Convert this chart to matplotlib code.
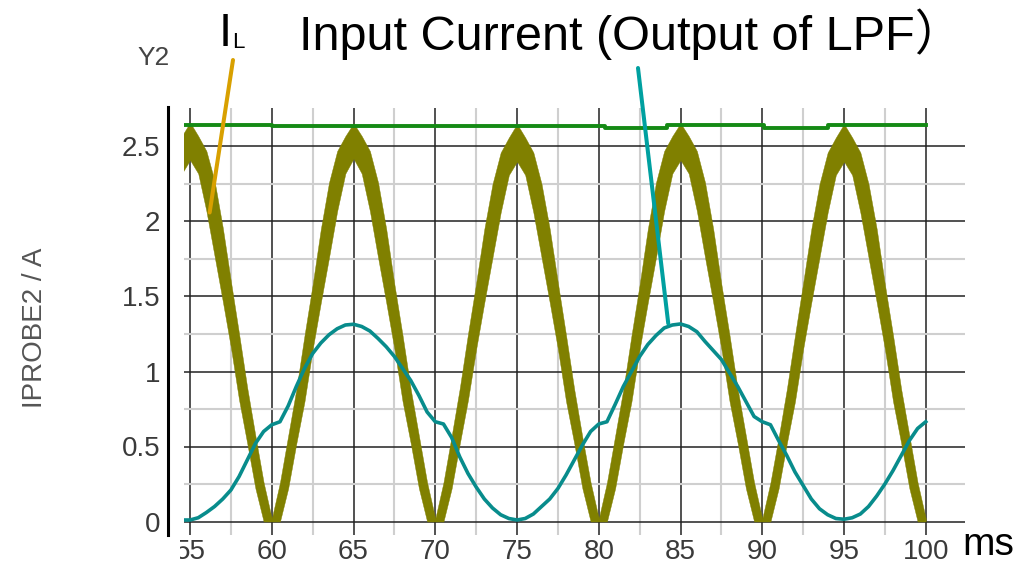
import matplotlib
matplotlib.use("Agg")
import matplotlib.pyplot as plt
from matplotlib import font_manager
from matplotlib.patches import Rectangle
import numpy as np

# sample times (ms), one reading every 0.5 ms
t = np.arange(54.5, 100.25, 0.5)

# inductor current I_L: upper and lower edge of the ripple band (A)
il_hi = [2.57, 2.66, 2.57, 2.47, 2.27, 1.96, 1.60, 1.25, 0.89, 0.57, 0.26, 0.02,
         0.26, 0.57, 0.88, 1.24, 1.58, 1.95, 2.26, 2.47, 2.57, 2.655, 2.57, 2.47, 2.26, 1.95, 1.58, 1.24, 0.88, 0.57, 0.26, 0.02,
         0.26, 0.57, 0.89, 1.25, 1.59, 1.95, 2.25, 2.46, 2.56, 2.65, 2.56, 2.46, 2.25, 1.95, 1.59, 1.24, 0.88, 0.56, 0.26, 0.02,
         0.26, 0.57, 0.88, 1.24, 1.58, 1.95, 2.26, 2.47, 2.57, 2.655, 2.57, 2.47, 2.26, 1.95, 1.58, 1.24, 0.88, 0.57, 0.26, 0.02,
         0.26, 0.56, 0.88, 1.24, 1.59, 1.95, 2.25, 2.46, 2.56, 2.65, 2.56, 2.46, 2.25, 1.95, 1.58, 1.24, 0.88, 0.57, 0.26, 0.02]
il_lo = [2.32, 2.41, 2.32, 2.07, 1.77, 1.47, 1.16, 0.81, 0.52, 0.22, 0.00, 0.00,
         0.00, 0.22, 0.52, 0.80, 1.15, 1.46, 1.76, 2.07, 2.32, 2.42, 2.32, 2.07, 1.76, 1.46, 1.15, 0.80, 0.52, 0.22, 0.00, 0.00,
         0.00, 0.22, 0.52, 0.81, 1.15, 1.46, 1.76, 2.06, 2.31, 2.40, 2.31, 2.06, 1.76, 1.46, 1.15, 0.80, 0.52, 0.22, 0.00, 0.00,
         0.00, 0.22, 0.52, 0.80, 1.15, 1.46, 1.76, 2.07, 2.32, 2.41, 2.32, 2.07, 1.76, 1.46, 1.15, 0.80, 0.52, 0.22, 0.00, 0.00,
         0.00, 0.22, 0.52, 0.80, 1.15, 1.46, 1.76, 2.06, 2.31, 2.40, 2.31, 2.06, 1.76, 1.46, 1.15, 0.80, 0.52, 0.22, 0.00, 0.00]

# input current after the low pass filter (A)
i_in = [0.01, 0.01, 0.025, 0.06, 0.10, 0.15, 0.21, 0.30, 0.41, 0.52, 0.60, 0.645,
        0.665, 0.77, 0.90, 1.02, 1.12, 1.19, 1.245, 1.285, 1.31, 1.315, 1.30, 1.27, 1.22, 1.165, 1.10, 1.02, 0.94, 0.84, 0.73, 0.665,
        0.65, 0.56, 0.43, 0.32, 0.23, 0.15, 0.09, 0.045, 0.02, 0.01, 0.02, 0.05, 0.10, 0.15, 0.22, 0.31, 0.41, 0.51, 0.60, 0.65,
        0.665, 0.78, 0.90, 1.00, 1.10, 1.18, 1.24, 1.29, 1.31, 1.317, 1.30, 1.265, 1.20, 1.14, 1.08, 0.99, 0.90, 0.80, 0.70, 0.665,
        0.645, 0.54, 0.44, 0.33, 0.24, 0.15, 0.085, 0.045, 0.02, 0.015, 0.025, 0.05, 0.10, 0.17, 0.25, 0.34, 0.44, 0.54, 0.62, 0.665]

# peak detector trace (A), stepwise
pk_t = [54.5, 60.0, 70.1, 80.4, 84.2, 90.1, 94.0, 100.0]
pk_v = [2.645, 2.635, 2.635, 2.62, 2.64, 2.62, 2.64, 2.64]

xticks = [55, 60, 65, 70, 75, 80, 85, 90, 95, 100]
yticks = [0, 0.5, 1, 1.5, 2, 2.5]
ytick_labels = ["0", "0.5", "1", "1.5", "2", "2.5"]

OLIVE = "#808000"
TEAL = "#088c8c"
GREEN = "#158a15"
ORANGE = "#d8a000"


def first_font(names):
    for name in names:
        try:
            font_manager.findfont(name, fallback_to_default=False)
            return name
        except ValueError:
            pass
    return "DejaVu Sans"


narrow = first_font(["Liberation Sans Narrow", "DejaVu Sans Condensed", "Liberation Sans"])
sans = ["Liberation Sans", "Noto Sans CJK SC", "DejaVu Sans"]

W, H = 1030, 569
fig = plt.figure(figsize=(W / 100, H / 100), dpi=100)
ax = fig.add_axes([183.5 / W, (H - 535) / H, 781.5 / W, (535 - 107.5) / H])

# spines first: moving a spine rebuilds the ticks
for side in ["top", "right", "bottom"]:
    ax.spines[side].set_visible(False)
ax.spines["left"].set_position(("outward", 11.2))
ax.spines["left"].set_linewidth(2.2)
ax.spines["left"].set_color("black")

ax.fill_between(t, il_lo, il_hi, color=OLIVE, edgecolor=OLIVE, lw=0.3, zorder=3)
ax.plot(t, i_in, color=TEAL, lw=2.6, zorder=4)
ax.plot(pk_t, pk_v, color=GREEN, lw=2.8, drawstyle="steps-post", zorder=5)

ax.set_xlim(54.6, 102.4)
ax.set_ylim(-0.09, 2.76)
ax.set_xticks(xticks)
ax.set_xticks(np.array(xticks[:-1]) + 2.5, minor=True)
ax.set_yticks(yticks)
ax.set_yticks(np.array(yticks[:-1]) + 0.25, minor=True)
ax.set_axisbelow(True)
ax.grid(which="major", color="#222222", lw=1.1)
ax.grid(which="minor", color="#cfcfcf", lw=1.5)
ax.tick_params(which="both", length=0)
ax.tick_params(axis="y", pad=5.5)
ax.tick_params(axis="x", pad=3)
ax.set_xticklabels([str(v) for v in xticks], family=narrow, fontsize=20, color="#3a3a3a")
ax.set_yticklabels(ytick_labels, family=narrow, fontsize=20, color="#3a3a3a")

# the first x label is partly hidden behind the axis
fig.add_artist(Rectangle((170 / W, 0), 10 / W, (H - 537) / H, transform=fig.transFigure,
                         facecolor="white", edgecolor="none", zorder=10))

fig.text(154 / W, 1 - 65 / H, "Y2", family=narrow, fontsize=19, color="#444444", ha="center", va="baseline")
fig.text(35 / W, 1 - 328 / H, "IPROBE2 / A", family=sans, fontsize=20, color="#555555",
         rotation=90, ha="center", va="center")
fig.text(962 / W, 1 - 555 / H, "ms", family=sans, fontsize=28, color="black", va="baseline")

fig.text(219 / W, 1 - 46 / H, "I", family=sans, fontsize=34, color="black", va="baseline")
fig.text(232 / W, 1 - 48 / H, "L", family=sans, fontsize=16, color="black", va="baseline")
fig.text(299 / W, 1 - 50 / H, "Input Current (Output of LPF）", family=sans, fontsize=35,
         color="black", va="baseline")

# pointers from the labels to their traces
ax.annotate("", xy=(56.2, 2.06), xytext=(233, H - 60), textcoords="figure pixels",
            arrowprops=dict(arrowstyle="-", color=ORANGE, lw=2.9, shrinkA=0, shrinkB=0), zorder=6)
ax.annotate("", xy=(84.25, 1.32), xytext=(638, H - 68), textcoords="figure pixels",
            arrowprops=dict(arrowstyle="-", color="#00a0a0", lw=2.9, shrinkA=0, shrinkB=0), zorder=6)

fig.savefig("out.png", dpi=100, facecolor="white")
